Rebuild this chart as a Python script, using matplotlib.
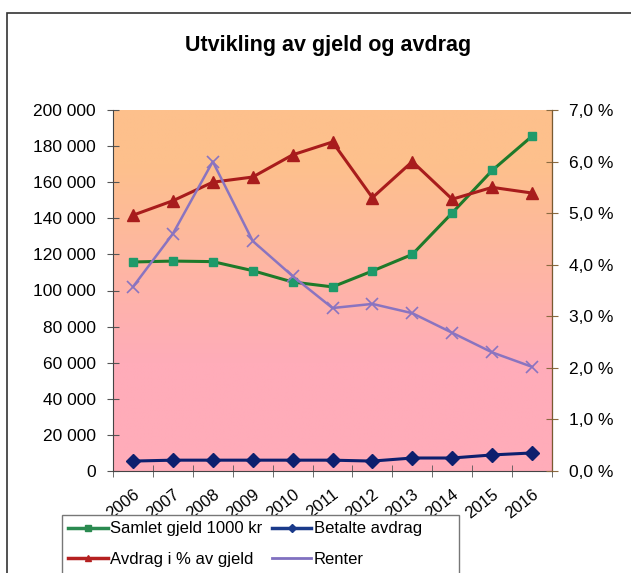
import matplotlib.pyplot as plt
import matplotlib.patches as mpatches
import matplotlib.transforms as mtransforms
from matplotlib.lines import Line2D
from matplotlib.ticker import FuncFormatter, FixedLocator
import numpy as np

years = ["2006", "2007", "2008", "2009", "2010", "2011", "2012", "2013", "2014", "2015", "2016"]
samlet_gjeld = [115800, 116300, 116000, 111000, 104700, 102000, 110800, 120000, 143000, 166500, 185500]
betalte_avdrag = [5500, 6000, 6000, 6000, 6000, 6000, 5500, 7200, 7200, 8900, 10000]
avdrag_pct = [4.96, 5.24, 5.60, 5.70, 6.13, 6.38, 5.30, 6.00, 5.27, 5.50, 5.39]
renter = [3.57, 4.60, 6.00, 4.46, 3.78, 3.16, 3.24, 3.06, 2.68, 2.30, 2.02]
labels = ["Samlet gjeld 1000 kr", "Betalte avdrag", "Avdrag i % av gjeld", "Renter"]

plt.rcParams['font.family'] = ['Liberation Sans', 'DejaVu Sans']

W, H = 631, 573
fig = plt.figure(figsize=(W / 100, H / 100), dpi=100)

# outer frame of the chart
fig.patches.append(mpatches.Rectangle((7 / W, -0.1), 1.0, 1 - 13 / H + 0.1, transform=fig.transFigure,
                                      fill=False, edgecolor='#333333', linewidth=1.2))

ax = fig.add_axes([113 / W, 1 - 471 / H, (552 - 113) / W, (471 - 110) / H])
ax2 = ax.twinx()

x = np.arange(len(years))
ax.set_xlim(-0.5, len(years) - 0.5)
ax.set_ylim(0, 200000)
ax2.set_ylim(0, 7)

# gradient background orange -> pink
top = np.array([253, 192, 140]) / 255
bot = np.array([255, 172, 185]) / 255
t = np.linspace(0, 1, 256)[:, None]
t = np.clip((t - 0.15) / 0.55, 0, 1)
grad = top[None, None, :] * (1 - t[..., None]) + bot[None, None, :] * t[..., None]
grad = np.repeat(grad, 2, axis=1)
ax.imshow(grad, extent=[-0.5, len(years) - 0.5, 0, 200000], aspect='auto', zorder=0, interpolation='bilinear')

ax.plot(x, samlet_gjeld, color='#1e7a2a', lw=2.2, marker='s', ms=6, mfc='#1f9a6a', mec='#1f9a6a', zorder=3)
ax.plot(x, betalte_avdrag, color='#0d1f6e', lw=2.2, marker='D', ms=7, mfc='#0d1f6e', mec='#0d1f6e', zorder=3)
ax2.plot(x, avdrag_pct, color='#a81c1c', lw=2.2, marker='^', ms=9, mfc='#a81c1c', mec='#a81c1c', zorder=3)
ax2.plot(x, renter, color='#8a74c0', lw=1.8, marker='x', ms=9, mew=1.2, zorder=3)

ax.yaxis.set_major_locator(FixedLocator(np.arange(0, 200001, 20000)))
ax.yaxis.set_major_formatter(FuncFormatter(lambda v, p: f"{int(v):,}".replace(",", " ")))
ax2.yaxis.set_major_locator(FixedLocator(np.arange(0, 7.01, 1)))
ax2.yaxis.set_major_formatter(FuncFormatter(lambda v, p: f"{v:.1f} %".replace(".", ",")))

ax.set_xticks(x)
ax.set_xticklabels(years, rotation=38, ha='right', rotation_mode='anchor', fontsize=12)
shift = mtransforms.ScaledTranslation(-9 / 100, 0, fig.dpi_scale_trans)
for lab in ax.get_xticklabels():
    lab.set_transform(lab.get_transform() + shift)
ax.set_xticks(np.arange(-0.5, len(years)), minor=True)
ax.tick_params(axis='x', which='major', length=0, pad=11)
ax.tick_params(axis='x', which='minor', direction='inout', length=8, color='#555555')
ax.tick_params(axis='y', direction='inout', length=8, labelsize=12.5, pad=8.5, color='#555555')
ax2.tick_params(axis='y', direction='inout', length=8, labelsize=12.5, pad=8.5, color='#8a6a40')

for a in (ax, ax2):
    a.spines['top'].set_visible(False)
ax.spines['left'].set_color('#444444')
ax.spines['bottom'].set_color('#444444')
ax2.spines['right'].set_color('#7a5a30')
ax2.spines['left'].set_visible(False)
ax2.spines['bottom'].set_visible(False)

fig.text((185 + 472) / 2 / W, 1 - 46 / H, "Utvikling av gjeld og avdrag", ha='center', va='center',
         fontsize=15.5, fontweight='bold')

# legend handles, filled row by row (matplotlib fills columns first)
h1 = Line2D([], [], color='#2a8a50', lw=2.5, marker='s', ms=4)
h2 = Line2D([], [], color='#1a3a8a', lw=2.5, marker='D', ms=4)
h3 = Line2D([], [], color='#b52020', lw=2.5, marker='^', ms=5)
h4 = Line2D([], [], color='#8070c0', lw=2.0)
leg = fig.legend([h1, h3, h2, h4], [labels[0], labels[2], labels[1], labels[3]],
                 ncol=2, loc='upper left', bbox_to_anchor=(65 / W, 1 - 518 / H), fontsize=12,
                 frameon=False, borderpad=0.2,
                 handlelength=2.35, handletextpad=0.15, columnspacing=0.6, labelspacing=0.95,
                 borderaxespad=0)
# legend box drawn by hand: it is wider than the entries
fig.patches.append(mpatches.Rectangle((62 / W, -0.1), (459 - 62) / W, 0.1 + 1 - 515 / H,
                                      transform=fig.transFigure, fill=True, facecolor='white',
                                      edgecolor='#777777', linewidth=1.0, zorder=1))

fig.savefig("out.png", dpi=100)
